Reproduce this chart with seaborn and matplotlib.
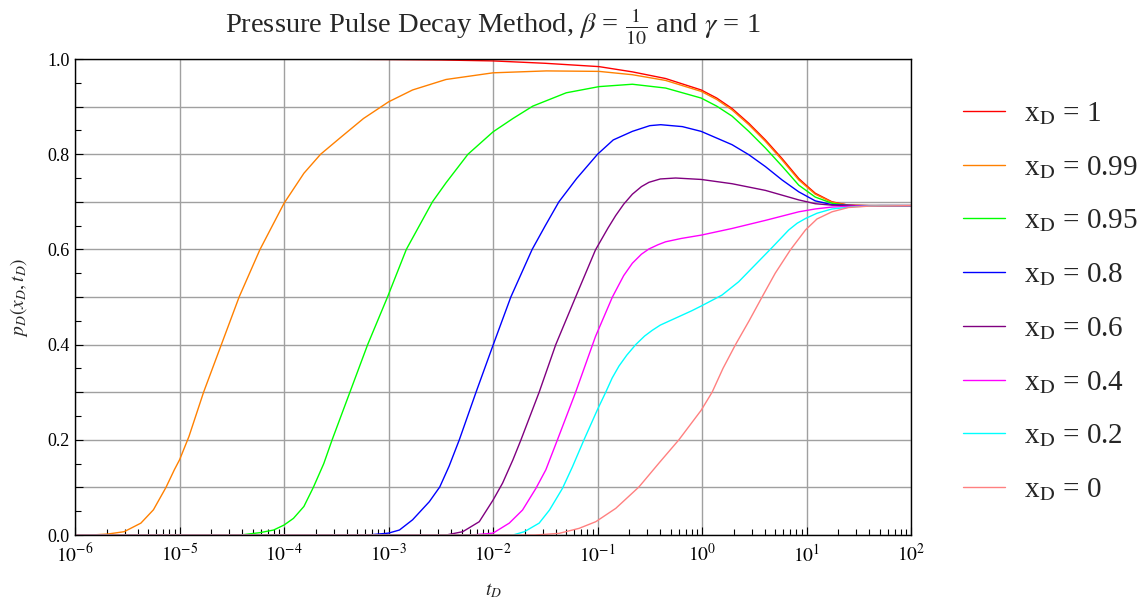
import numpy as np
import pandas as pd
import matplotlib
matplotlib.use("Agg")
import matplotlib.pyplot as plt
from matplotlib.ticker import FixedLocator, LogLocator, MultipleLocator, FuncFormatter, NullFormatter
import seaborn as sns

# Dimensionless pressure p_D(x_D, t_D); times given as log10(t_D)
labels = ["1", "0.99", "0.95", "0.8", "0.6", "0.4", "0.2", "0"]
colors = ["#FF0000", "#FF8000", "#00FF00", "#0000FF",
          "#800080", "#FF00FF", "#00FFFF", "#FF8080"]

logt_1 = [-6.0, -4.0, -3.0, -2.5, -2.0, -1.5, -0.986, -0.667, -0.349, -0.009,
          0.14, 0.287, 0.447, 0.606, 0.765, 0.925, 0.995, 1.083, 1.243, 1.40,
          1.6, 2.0]
p_1 = [1.0, 1.0, 0.999, 0.998, 0.996, 0.991, 0.984, 0.973, 0.959, 0.935,
       0.918, 0.896, 0.865, 0.83, 0.791, 0.749, 0.735, 0.718, 0.70, 0.693,
       0.692, 0.692]

logt_099 = [-6.0, -5.85, -5.69, -5.53, -5.37, -5.25, -5.13, -5.05, -5.0, -4.91,
            -4.77, -4.60, -4.43, -4.23, -4.0, -3.81, -3.65, -3.46, -3.24, -3.0,
            -2.77, -2.45, -2.0, -1.49, -0.986, -0.667, -0.349, -0.009, 0.14,
            0.287, 0.447, 0.606, 0.765, 0.925, 1.083, 1.243, 1.40, 1.6, 2.0]
p_099 = [0.0, 0.0, 0.002, 0.007, 0.025, 0.053, 0.10, 0.137, 0.158, 0.207,
         0.30, 0.40, 0.50, 0.60, 0.697, 0.76, 0.80, 0.835, 0.875, 0.91,
         0.935, 0.957, 0.971, 0.975, 0.974, 0.967, 0.955, 0.932, 0.915,
         0.893, 0.862, 0.827, 0.788, 0.746, 0.716, 0.699, 0.693, 0.692, 0.692]

logt_095 = [-6.0, -4.42, -4.23, -4.10, -4.0, -3.91, -3.81, -3.72, -3.62, -3.54,
            -3.37, -3.20, -3.01, -2.83, -2.58, -2.45, -2.24, -2.0, -1.81, -1.62,
            -1.30, -0.986, -0.667, -0.349, -0.009, 0.14, 0.287, 0.447, 0.606,
            0.765, 0.925, 1.083, 1.243, 1.40, 1.6, 2.0]
p_095 = [0.0, 0.0, 0.005, 0.0105, 0.021, 0.035, 0.06, 0.10, 0.15, 0.20,
         0.30, 0.40, 0.50, 0.60, 0.70, 0.74, 0.80, 0.847, 0.875, 0.901,
         0.929, 0.942, 0.947, 0.939, 0.918, 0.901, 0.88, 0.848, 0.813,
         0.775, 0.735, 0.71, 0.697, 0.692, 0.692, 0.692]

logt_08 = [-6.0, -3.2, -3.0, -2.896, -2.77, -2.61, -2.51, -2.42, -2.323, -2.163,
           -1.998, -1.83, -1.626, -1.50, -1.37, -1.2, -1.0, -0.85, -0.667, -0.5,
           -0.396, -0.189, -0.009, 0.287, 0.447, 0.606, 0.765, 0.925, 1.083,
           1.243, 1.47, 1.7, 2.0]
p_08 = [0.0, 0.0, 0.004, 0.0105, 0.032, 0.07, 0.101, 0.145, 0.20, 0.30,
        0.40, 0.50, 0.60, 0.65, 0.70, 0.749, 0.80, 0.83, 0.848, 0.86,
        0.862, 0.858, 0.848, 0.82, 0.799, 0.774, 0.746, 0.721, 0.702,
        0.694, 0.692, 0.692, 0.692]

logt_06 = [-6.0, -2.45, -2.29, -2.132, -2.0, -1.909, -1.81, -1.733, -1.559, -1.40,
           -1.21, -1.02, -0.90, -0.827, -0.75, -0.667, -0.58, -0.508, -0.40,
           -0.253, -0.009, 0.287, 0.606, 0.925, 1.083, 1.243, 1.47, 1.7, 2.0]
p_06 = [0.0, 0.0, 0.007, 0.028, 0.0735, 0.109, 0.158, 0.20, 0.30, 0.40,
        0.50, 0.599, 0.645, 0.671, 0.695, 0.716, 0.732, 0.741, 0.748,
        0.75, 0.747, 0.738, 0.724, 0.704, 0.696, 0.693, 0.692, 0.692, 0.692]

logt_04 = [-6.0, -2.2, -2.0, -1.845, -1.718, -1.59, -1.495, -1.384, -1.21, -1.02,
           -0.858, -0.75, -0.667, -0.58, -0.508, -0.42, -0.349, -0.2, -0.009,
           0.287, 0.606, 0.925, 1.083, 1.243, 1.47, 1.7, 2.0]
p_04 = [0.0, 0.0, 0.004, 0.025, 0.0525, 0.098, 0.137, 0.20, 0.30, 0.417,
        0.50, 0.545, 0.571, 0.590, 0.601, 0.61, 0.616, 0.623, 0.63,
        0.644, 0.661, 0.679, 0.685, 0.689, 0.691, 0.692, 0.692]

logt_02 = [-6.0, -1.81, -1.70, -1.559, -1.46, -1.336, -1.241, -1.13, -1.002, -0.922,
           -0.86, -0.795, -0.72, -0.635, -0.55, -0.477, -0.40, -0.30, -0.19, -0.1,
           -0.009, 0.13, 0.19, 0.35, 0.51, 0.67, 0.83, 0.91, 0.99, 1.1, 1.243,
           1.47, 1.7, 2.0]
p_02 = [0.0, 0.0, 0.007, 0.025, 0.0525, 0.098, 0.143, 0.20, 0.263, 0.30,
        0.33, 0.355, 0.378, 0.40, 0.418, 0.43, 0.441, 0.451, 0.462, 0.471,
        0.481, 0.497, 0.504, 0.532, 0.568, 0.604, 0.641, 0.655, 0.665, 0.676,
        0.685, 0.69, 0.692, 0.692]

logt_0 = [-6.0, -1.6, -1.368, -1.177, -1.017, -0.826, -0.604, -0.413, -0.222, -0.009,
          0.096, 0.20, 0.32, 0.45, 0.574, 0.70, 0.845, 0.99, 1.1, 1.243,
          1.40, 1.6, 2.0]
p_0 = [0.0, 0.0, 0.0035, 0.014, 0.028, 0.056, 0.101, 0.151, 0.20, 0.262,
       0.30, 0.35, 0.40, 0.45, 0.50, 0.55, 0.599, 0.641, 0.664, 0.679,
       0.688, 0.691, 0.692]

series = [(logt_1, p_1), (logt_099, p_099), (logt_095, p_095), (logt_08, p_08),
          (logt_06, p_06), (logt_04, p_04), (logt_02, p_02), (logt_0, p_0)]

names = [r"x$_{\mathrm{D}}$ = " + lab for lab in labels]
frames = []
for name, (lt, p) in zip(names, series):
    frames.append(pd.DataFrame({"t": 10.0 ** np.asarray(lt), "p": p, "curve": name}))
df = pd.concat(frames, ignore_index=True)
palette = dict(zip(names, colors))

sns.set_theme(style="white")
plt.rcParams["font.family"] = ["Liberation Serif", "DejaVu Serif"]
plt.rcParams["mathtext.fontset"] = "stix"

fig = plt.figure(figsize=(11.44, 6.04), dpi=100)
ax = fig.add_axes([0.0656, 0.1142, 0.7308, 0.7881])

sns.lineplot(data=df, x="t", y="p", hue="curve", hue_order=names,
             palette=palette, linewidth=1.0, sort=False, estimator=None, ax=ax)

ax.set_xscale("log")
ax.set_xlim(1e-6, 1e2)
ax.set_ylim(0.0, 1.0)

ax.xaxis.set_major_locator(FixedLocator([10.0 ** k for k in range(-6, 3)]))
ax.xaxis.set_minor_locator(LogLocator(base=10, subs=np.arange(2, 10), numticks=20))
ax.xaxis.set_minor_formatter(NullFormatter())
ax.xaxis.set_major_formatter(FuncFormatter(
    lambda v, pos: r"$10^{%d}$" % int(round(np.log10(v)))))
ax.yaxis.set_major_locator(MultipleLocator(0.1))
ax.yaxis.set_minor_locator(MultipleLocator(0.05))
ax.yaxis.set_major_formatter(FuncFormatter(
    lambda v, pos: f"{v:.1f}" if round(v * 10) % 2 == 0 else ""))

ax.grid(True, which="major", color="#a0a0a0", linewidth=1.0)
ax.set_axisbelow(True)
for s in ax.spines.values():
    s.set_color("black")
    s.set_linewidth(1.0)

ax.tick_params(axis="both", which="both", direction="in", colors="black",
               labelcolor="black", bottom=True, left=True, top=False, right=False)
ax.tick_params(axis="x", which="major", length=6, width=0.8, labelsize=14, pad=6)
ax.tick_params(axis="x", which="minor", length=4, width=0.8)
ax.tick_params(axis="y", which="major", length=6, width=0.8, labelsize=13, pad=4)
ax.tick_params(axis="y", which="minor", length=4, width=0.8)

ax.set_title(r"Pressure Pulse Decay Method, $\beta$ = $\frac{1}{10}$ and $\gamma$ = 1",
             fontsize=20.5, pad=19)
ax.set_xlabel(r"$t_D$", fontsize=14, labelpad=11)
ax.set_ylabel(r"$p_D(x_D,t_D)$", fontsize=14, labelpad=12)

ax.legend(loc="upper left", bbox_to_anchor=(1.0477, 0.938), frameon=False,
          fontsize=21, handlelength=1.45, handletextpad=0.65, labelspacing=0.92,
          borderaxespad=0)

fig.savefig("out.png", dpi=100)
